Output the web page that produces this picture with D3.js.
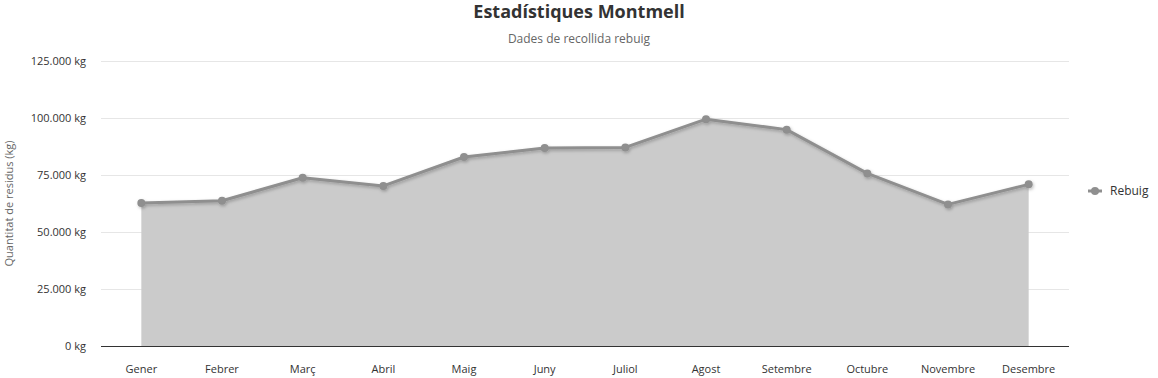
<!DOCTYPE html>
<html>
<head>
<meta charset="utf-8">
<script src="https://cdn.jsdelivr.net/npm/d3@7"></script>
<style>
    body { margin: 0; background: #ffffff; }
    svg { display: block; font-family: "Open Sans", "Noto Sans", sans-serif; }
</style>
</head>
<body>
<script>
// 数据
const months = ['Gener', 'Febrer', 'Març', 'Abril', 'Maig', 'Juny', 'Juliol', 'Agost', 'Setembre', 'Octubre', 'Novembre', 'Desembre'];
const rebuig = [62700, 63700, 73800, 70200, 82900, 86800, 87100, 99500, 94900, 75700, 62100, 70900];
const yTicks = [0, 25000, 50000, 75000, 100000, 125000];

const svgWidth = 1158, svgHeight = 378;
const margin = {left: 101, right: 89, top: 61, bottom: 32};

const svg = d3.select('body')
    .append('svg')
    .attr('width', svgWidth)
    .attr('height', svgHeight);

// 阴影滤镜
const defs = svg.append('defs');
const shadow = defs.append('filter')
    .attr('id', 'shadow')
    .attr('x', '-5%').attr('y', '-20%')
    .attr('width', '110%').attr('height', '140%');
shadow.append('feDropShadow')
    .attr('dx', 1).attr('dy', 1.5)
    .attr('stdDeviation', 1.8)
    .attr('flood-color', '#000000')
    .attr('flood-opacity', 0.25);

const x = d3.scaleBand()
    .domain(months)
    .range([margin.left, svgWidth - margin.right]);
const y = d3.scaleLinear()
    .domain([0, 125000])
    .range([svgHeight - margin.bottom, margin.top]);

const fmt = v => d3.format(',')(v).replace(/,/g, '.') + ' kg';

// 标题
svg.append('text')
    .attr('x', 579).attr('y', 18)
    .attr('text-anchor', 'middle')
    .style('font-size', '18px').style('font-weight', 'bold')
    .style('fill', '#333333')
    .text('Estadístiques Montmell');
svg.append('text')
    .attr('x', 579).attr('y', 43)
    .attr('text-anchor', 'middle')
    .style('font-size', '12px')
    .style('fill', '#666666')
    .text('Dades de recollida rebuig');

// 网格线
svg.append('g')
    .selectAll('line')
    .data(yTicks.slice(1))
    .enter()
    .append('line')
    .attr('x1', margin.left).attr('x2', svgWidth - margin.right)
    .attr('y1', d => y(d) + 0.5).attr('y2', d => y(d) + 0.5)
    .attr('stroke', '#e6e6e6');

// Y 轴标签
svg.append('g')
    .selectAll('text')
    .data(yTicks)
    .enter()
    .append('text')
    .attr('x', 86)
    .attr('y', d => y(d) + 4)
    .attr('text-anchor', 'end')
    .style('font-size', '11px')
    .style('fill', '#333333')
    .text(fmt);

svg.append('text')
    .attr('transform', `translate(13,${(margin.top + svgHeight - margin.bottom) / 2}) rotate(-90)`)
    .attr('text-anchor', 'middle')
    .style('font-size', '11px')
    .style('fill', '#666666')
    .text('Quantitat de residus (kg)');

const cx = d => x(d) + x.bandwidth() / 2;
const data = months.map((m, i) => ({m, v: rebuig[i]}));

// 面积
svg.append('path')
    .datum(data)
    .attr('d', d3.area().x(d => cx(d.m)).y0(y(0)).y1(d => y(d.v)))
    .attr('fill', '#cbcbcb');

// 折线
const lineG = svg.append('g').attr('filter', 'url(#shadow)');
lineG.append('path')
    .datum(data)
    .attr('d', d3.line().x(d => cx(d.m)).y(d => y(d.v)))
    .attr('fill', 'none')
    .attr('stroke', '#8f8f8f')
    .attr('stroke-width', 3)
    .attr('stroke-linejoin', 'round');
lineG.selectAll('circle')
    .data(data)
    .enter()
    .append('circle')
    .attr('cx', d => cx(d.m))
    .attr('cy', d => y(d.v))
    .attr('r', 4)
    .attr('fill', '#8f8f8f');

// X 轴
svg.append('line')
    .attr('x1', margin.left).attr('x2', svgWidth - margin.right)
    .attr('y1', y(0) + 0.5).attr('y2', y(0) + 0.5)
    .attr('stroke', '#333333');
svg.append('g')
    .selectAll('text')
    .data(months)
    .enter()
    .append('text')
    .attr('x', cx)
    .attr('y', 373)
    .attr('text-anchor', 'middle')
    .style('font-size', '11px')
    .style('fill', '#333333')
    .text(d => d);

// 图例
const legend = svg.append('g').attr('transform', 'translate(1088,191)');
legend.append('line')
    .attr('x1', 0).attr('x2', 14)
    .attr('stroke', '#8f8f8f').attr('stroke-width', 3);
legend.append('circle')
    .attr('cx', 7).attr('r', 4)
    .attr('fill', '#8f8f8f');
legend.append('text')
    .attr('x', 22).attr('y', 4)
    .style('font-size', '12px')
    .style('fill', '#333333')
    .text('Rebuig');
</script>
</body>
</html>
